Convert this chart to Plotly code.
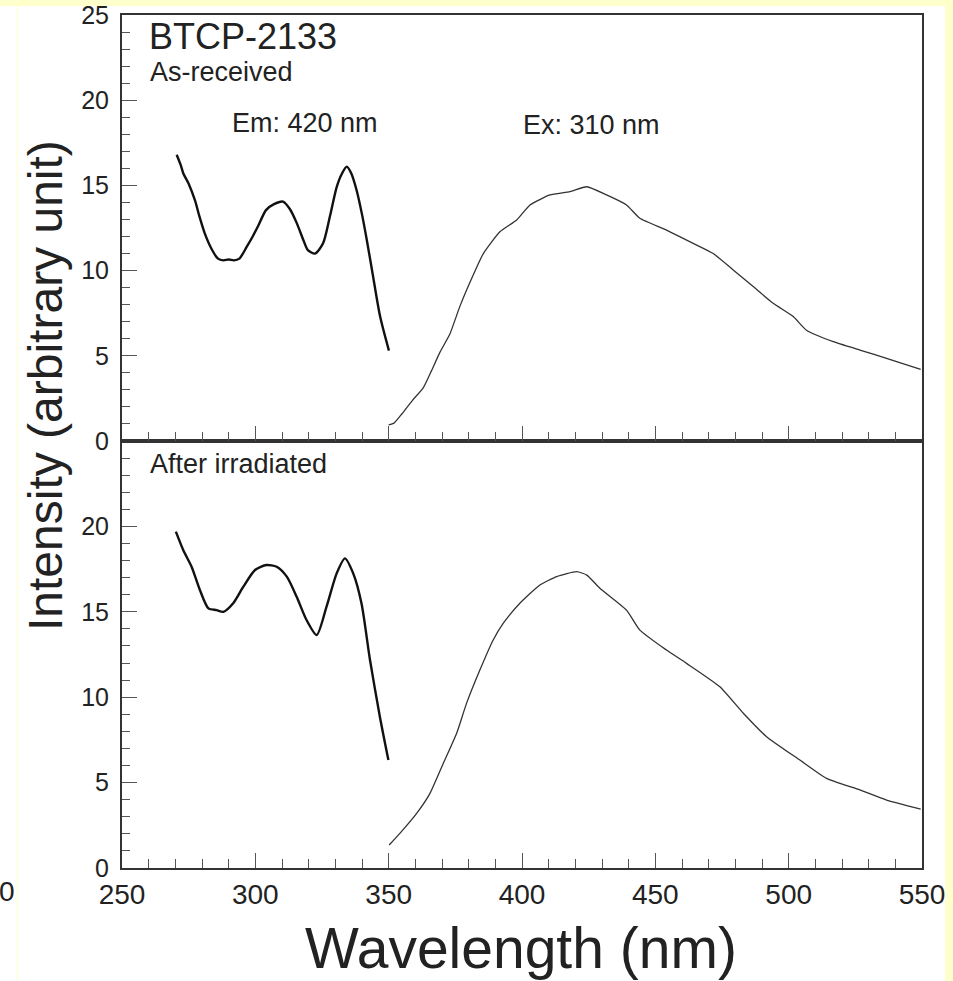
import plotly.graph_objects as go

# ---------------- data ----------------
# As-received, excitation (Em: 420 nm)
ex_top_x = [270.5, 272, 273, 275, 277.4, 279, 281, 283.5, 286, 288, 290, 292, 294, 296.8, 299, 301,
            304, 307, 310.4, 313, 315.5, 318, 319.7, 322.4, 325.4, 328, 330.5, 332.5, 334.3, 336,
            338, 340, 341.8, 344, 346.8, 350.1]
ex_top_y = [16.8, 16.2, 15.7, 15.1, 14.1, 13.2, 12.2, 11.3, 10.7, 10.6, 10.65, 10.6, 10.7, 11.4, 12.0, 12.6,
            13.55, 13.9, 14.05, 13.6, 12.8, 11.8, 11.2, 11.0, 11.6, 13.2, 14.9, 15.7, 16.1, 15.7,
            14.7, 13.3, 11.8, 9.8, 7.3, 5.3]
# As-received, emission (Ex: 310 nm)
em_top_x = [350, 352, 355, 359, 362.9, 366, 369.2, 373, 376.7, 381.7, 385.5, 391.7, 398, 403, 410.5,
            418, 424.3, 431.7, 439.2, 444.2, 454.2, 464.2, 471.7, 479.2, 486.7, 494.2, 501.7, 506.7,
            516.7, 526.7, 536.7, 549.5]
em_top_y = [0.94, 1.05, 1.6, 2.4, 3.1, 4.1, 5.2, 6.3, 7.9, 9.74, 11.0, 12.28, 12.97, 13.85, 14.44,
            14.63, 14.92, 14.44, 13.85, 13.07, 12.38, 11.6, 11.0, 10.04, 9.06, 8.08, 7.3, 6.5,
            5.83, 5.34, 4.85, 4.2]
# After irradiated, excitation
ex_bot_x = [270.2, 273, 276.1, 279.2, 282.4, 285.5, 288, 291.7, 295.5, 299.9, 304.2, 308, 311.8,
            315.5, 319.2, 323, 326.7, 330.5, 333.6, 336.7, 339.8, 343, 346.7, 349.9]
ex_bot_y = [19.69, 18.6, 17.64, 16.28, 15.2, 15.1, 15.0, 15.5, 16.47, 17.45, 17.74, 17.64, 17.06,
            15.88, 14.52, 13.64, 15.3, 17.25, 18.13, 17.25, 15.5, 12.18, 8.86, 6.32]
# After irradiated, emission
em_bot_x = [350.2, 354.2, 360.5, 365.5, 370.5, 375.5, 379.2, 384.2, 389.2, 393, 399.2, 406.7, 413,
            420.5, 424.3, 429.2, 439.2, 444.2, 454.2, 461.7, 474.2, 483, 491.7, 504.2, 514.2,
            526.7, 536.7, 549.5]
em_bot_y = [1.35, 2.03, 3.2, 4.37, 6.13, 7.89, 9.64, 11.59, 13.35, 14.33, 15.5, 16.57, 17.06,
            17.35, 17.15, 16.38, 15.1, 13.93, 12.76, 11.98, 10.61, 9.06, 7.69, 6.32, 5.25,
            4.57, 3.98, 3.45]

x_ticks = [250, 300, 350, 400, 450, 500, 550]
y_ticks_top = [0, 5, 10, 15, 20, 25]
y_ticks_bot = [0, 5, 10, 15, 20]

# ---------------- layout geometry ----------------
W, H = 953, 981
L, R, T, B = 122, 922, 15, 868
PW, PH = R - L, B - T
SPLIT = (B - 441) / PH


def px(x):
    return (x - L) / PW


def py(y):
    return (B - y) / PH


FONT = "Liberation Sans, Arial, Helvetica, sans-serif"
TXT = "#222222"

fig = go.Figure()
ex_line = dict(color="#111111", width=2.4, shape="spline", smoothing=0.7)
em_line = dict(color="#333333", width=1.3, shape="spline", smoothing=0.5)
fig.add_trace(go.Scatter(x=ex_top_x, y=ex_top_y, mode="lines", line=ex_line, xaxis="x2", yaxis="y2"))
fig.add_trace(go.Scatter(x=em_top_x, y=em_top_y, mode="lines", line=em_line, xaxis="x2", yaxis="y2"))
fig.add_trace(go.Scatter(x=ex_bot_x, y=ex_bot_y, mode="lines", line=ex_line, xaxis="x", yaxis="y"))
fig.add_trace(go.Scatter(x=em_bot_x, y=em_bot_y, mode="lines", line=em_line, xaxis="x", yaxis="y"))

common_x = dict(range=[250, 550], tickvals=x_ticks, ticks="inside", ticklen=15, tickwidth=1,
                tickcolor="#555555", showline=True, linewidth=2, linecolor="#333333", mirror=True,
                showgrid=False, zeroline=False, automargin=False,
                minor=dict(dtick=10, ticks="inside", ticklen=9, tickwidth=1, tickcolor="#555555",
                           showgrid=False))
common_y = dict(range=[0, 25], ticks="inside", ticklen=15, tickwidth=1, tickcolor="#555555",
                showline=True, linewidth=2, linecolor="#333333", mirror=True, showgrid=False,
                zeroline=False, automargin=False,
                minor=dict(dtick=1, ticks="inside", ticklen=8, tickwidth=1, tickcolor="#555555",
                           showgrid=False),
                tickfont=dict(family=FONT, size=25, color=TXT), ticklabelstandoff=6)

fig.update_layout(
    width=W, height=H,
    margin=dict(l=L, r=W - R, t=T, b=H - B, pad=0, autoexpand=False),
    paper_bgcolor="white", plot_bgcolor="white",
    showlegend=False,
    xaxis=dict(domain=[0, 1], anchor="y", tickfont=dict(family=FONT, size=28, color=TXT),
               ticklabelstandoff=0, **common_x),
    xaxis2=dict(domain=[0, 1], anchor="y2", matches="x", showticklabels=False, **common_x),
    yaxis=dict(domain=[0, SPLIT], anchor="x", tickvals=y_ticks_bot, **common_y),
    yaxis2=dict(domain=[SPLIT, 1], anchor="x2", tickvals=y_ticks_top, **common_y),
)

# yellow page background strips
shapes = [
    dict(type="rect", xref="paper", yref="paper", x0=px(-2), x1=px(W + 2), y0=py(6), y1=py(-2),
         fillcolor="#FFFFCC", line=dict(width=0), layer="above"),
    dict(type="rect", xref="paper", yref="paper", x0=px(945), x1=px(W + 2), y0=py(H + 2), y1=py(-2),
         fillcolor="#FFFFCC", line=dict(width=0), layer="below"),
    dict(type="rect", xref="paper", yref="paper", x0=px(16.5), x1=px(17.5), y0=py(H + 2), y1=py(6),
         fillcolor="#FFFFCC", line=dict(width=0), layer="below"),
]
fig.update_layout(shapes=shapes)


def ann(text, x, y, size, xanchor="left", **kw):
    fig.add_annotation(text=text, xref="paper", yref="paper", x=px(x), y=py(y), xanchor=xanchor,
                       yanchor="middle", showarrow=False,
                       font=dict(family=FONT, size=size, color=TXT), **kw)


ann("BTCP-2133", 147, 36, 36)
ann("As-received", 148, 72, 27)
ann("Em: 420 nm", 230, 123, 27)
ann("Ex: 310 nm", 521, 125, 27)
ann("After irradiated", 148, 464, 27)
ann("0", 17, 891, 28, xanchor="right")
ann("Intensity (arbitrary unit)", 45, 386, 48, xanchor="center", textangle=-90)
ann("Wavelength (nm)", 521, 948, 57, xanchor="center")

fig.write_html("out.html")
